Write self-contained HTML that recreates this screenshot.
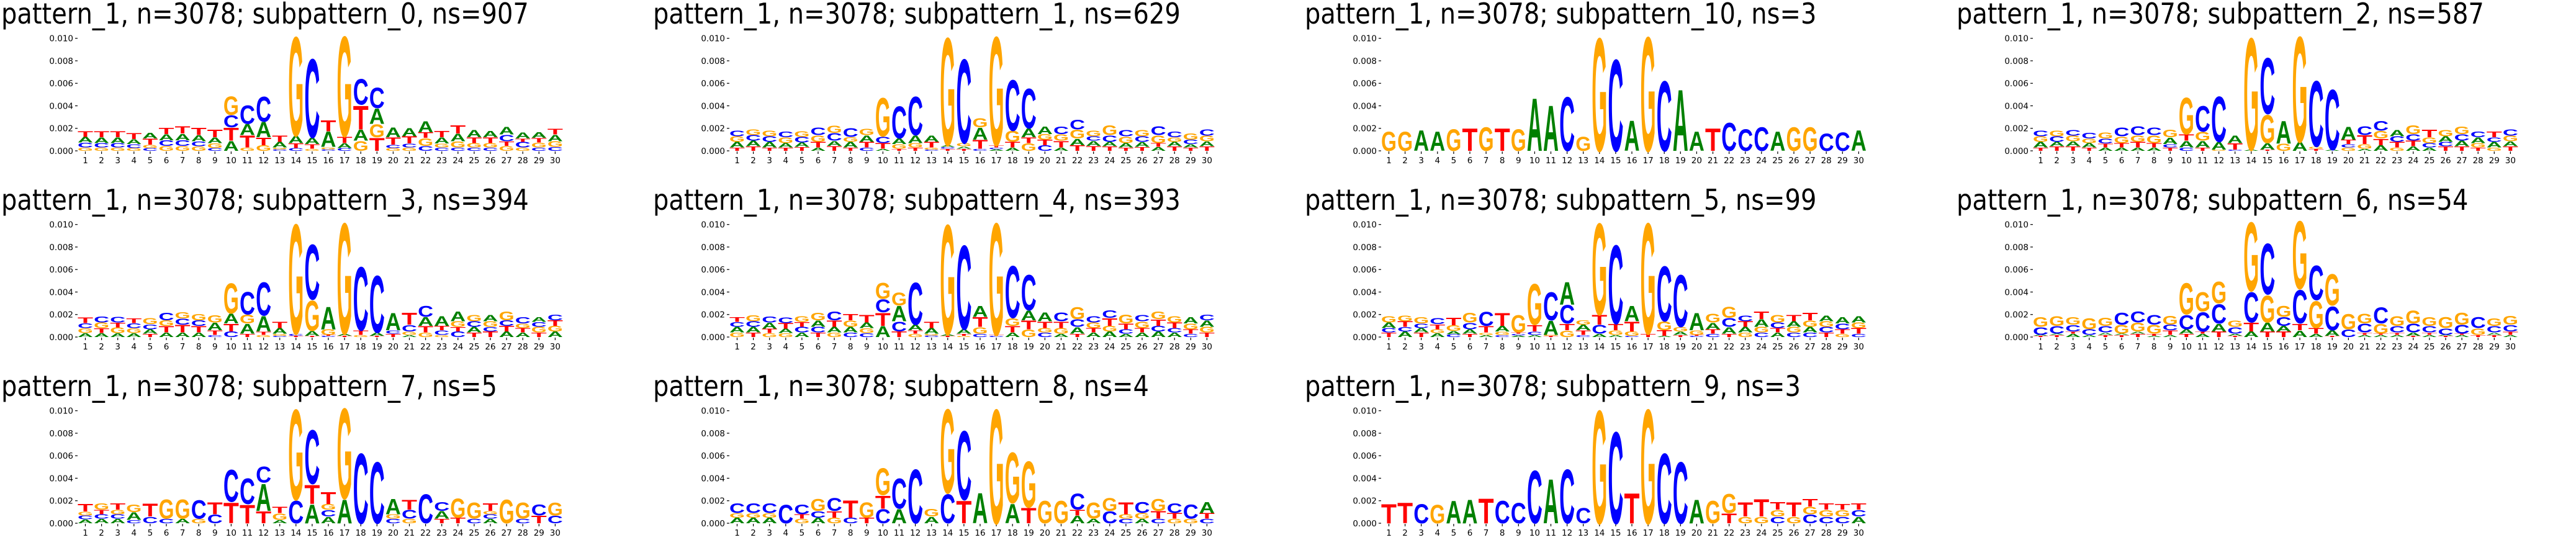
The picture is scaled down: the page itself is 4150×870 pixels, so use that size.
<!DOCTYPE html>
<html><head><meta charset="utf-8"><style>
html,body{margin:0;padding:0;background:#fff;}
svg{display:block;}
</style></head><body>
<svg id="fig" xmlns="http://www.w3.org/2000/svg" width="4150" height="870" viewBox="0 0 4150 870"></svg>
<script>
// Panel titles and layout order
const titles = ["pattern_1, n=3078; subpattern_0, ns=907","pattern_1, n=3078; subpattern_1, ns=629","pattern_1, n=3078; subpattern_10, ns=3","pattern_1, n=3078; subpattern_2, ns=587","pattern_1, n=3078; subpattern_3, ns=394","pattern_1, n=3078; subpattern_4, ns=393","pattern_1, n=3078; subpattern_5, ns=99","pattern_1, n=3078; subpattern_6, ns=54","pattern_1, n=3078; subpattern_7, ns=5","pattern_1, n=3078; subpattern_8, ns=4","pattern_1, n=3078; subpattern_9, ns=3"];
const yTicks = [0, 0.002, 0.004, 0.006, 0.008, 0.010];
const yTickLabels = ["0.000","0.002","0.004","0.006","0.008","0.010"];
const positions = [1,2,3,4,5,6,7,8,9,10,11,12,13,14,15,16,17,18,19,20,21,22,23,24,25,26,27,28,29,30];
// stacks bottom->top, heights in units of 0.001
const logoSub0 = ["G.3C.45A.5T.5","G.3C.4A.5T.55","G.3C.4A.5T.55","G.25C.35A.45T.55","C.25G.3T.55A.5","G.45C.5A.55T.6","G.45C.5A.6T.65","G.4C.45A.55T.65","C.25G.45A.5T.7","A.9T1.2C1.1G1.7","G.3T1.1A1C1.7","G.5T.7A1.4C2.3","C.15G.15A.5T.6","C.25T.45A.65G9.2","G.2T.4A.6C7.3","C.15G.2A1.4T1","C.25A.45T.6G9.3","G.9A1T2.2C2.4","T1.2G1.2A1.4C1.9","G.25C.3T.65A.9","G.3C.35T.65A.75","C.45G.7T.5A1","C.3G.35A.55T.6","C.3G.55A.7T.75","C.3G.4T.5A.65","C.3G.4T.5A.6","G.45T.4C.6A.7","G.3C.5T.3A.55","C.3G.45T.4A.5","C.35G.5A.6T.5"];
const logoSub1 = ["T.3A.5G.5C.5","T.4A.5C.5G.5","T.3A.5C.5G.5","T.3A.4G.5C.5","T.35A.4C.5G.5","A.3T.5G.6C.7","T.45A.45C.7G.65","T.3A.5G.45C.8","C.3T.5A.6G.6","A.2T.5C.6G3.6","T.2G.4A.5C3","T.3G.4A.7C3.6","C.1G.2T.5A.6","T.2C.15A.15G10","T.2A.2G.3C7.8","C.2T.8A1.1G.85","A.15C.15T.2G10.1","A.3T.5G1C4.7","G.7T.5A.8C3.7","C.5T.5G.5A.7","A.3T.6G.6C.7","T.5A.6G.8C.9","T.45A.45C.4G.5","T.4A.4C.6G.9","T.3A.4G.6C.6","T.35A.45C.5G.6","A.35T.35G.7C.8","T.4A.4G.4C.5","T.3A.3C.4G.6","T.4A.45G.5C.6"];
const logoSub10 = ["G1.8","G1.8","A1.9","A1.8","G2","T2.1","G2.2","T2.1","G2","A4.9","A4.2","C5","G1.3","G10.5","C8.5","A2.8","G10.6","C6.5","A5.7","A1.8","T2.1","C2.6","C2","C2.2","A1.8","G2.2","G2.2","C1.6","C1.7","A1.9"];
const logoSub2 = ["T.3A.5G.5C.5","T.4A.4C.5G.5","T.4A.45G.5C.5","T.3A.4G.4C.5","A.3T.35C.45G.55","A.3T.4G.6C.8","A.3T.5G.6C.8","A.3T.4G.7C.7","T.3C.3A.6G.7","C.3A.6T.6G3.4","T.3A.6G.8C2.4","G.1A.7C4.2","C.1T.6A.7","A.1G10.4","T.1A.6G2.6C5.2","G.65A2.1","A.8G9.8","T.2G.2C6.1","A.1C5.6","G.3C.3T.4A1.2","A.2G.4T.8C.8","A.5T.6G.7C.9","G.3T.5C.5A.6","A.4T.5C.6G.8","A.3C.4G.5T.7","T.4C.4A.5G.6","T.4A.5C.6G.7","T.3G.4A.5C.5","G.3A.5C.4T.5","T.4A.45G.5C.6"];
const logoSub3 = ["A.35G.45C.45T.5","A.35T.45G.5C.55","A.35G.5T.45C.5","A.35G.45C.45T.45","T.3A.4C.45G.55","A.4T.6G.5C.7","A.4T.7C.55G.6","A.4T.6C.5G.6","C.2T.4A.7G.65","C.5T.7A.9G2.8","T.3A.9G.8C2.1","G.2T.3A1.4C3.1","C.1G.2A.5T.6","T.1C.2G10.2","T.1A.45G2.8C5.1","C.1T.1G.5A2.1","T.1A.2G10.3","G.2T.4C5.9","T.1A.3C5.3","T.3C.3A1.6","A.2G.3C.6T1.1","G.4T.6A.8C1","G.2C.4T.4A.9","C.5T.4G.5A.9","T.4A.5C.5G.6","T.5C.4G.5A.6","A.5T.5C.5G.8","A.4T.4G.4C.6","T.4G.5C.45A.45","A.5G.5T.5C.5"];
const logoSub4 = ["G.4A.5C.45T.45","T.4A.5C.5G.55","G.35T.4A.55C.55","G.35A.4T.5C.5","A.4C.5T.45G.5","T.4C.5A.6G.7","G.4A.5T.6C.8","C.4A.5G.6T.6","C.35G.45A.5T.7","A1T1.2C1.2G1.5","T.5C.9A1.4G1.2","G.3T.3A.5C3.9","C.15G.15A.5T.6","T.1A.15G10.2","G.1T.2A.4C7.8","C.3G.6T.9A1","C.1T.1G10.4","A.4T.6G.7C4.8","G.7T.8A.9C3.3","C.4G.4T.6A.8","A.3G.5T.6C.8","T.3A.6C.7G1.1","A.4T.4G.5C.6","A.5G.5T.7C.7","A.3C.4T.5G.8","A.4T.4G.6C.6","A.5C.5T.6G.7","A.4C.4T.5G.6","C.3T.4G.5A.6","T.4G.5A.6C.5"];
const logoSub5 = ["T.4C.4A.5G.6","A.5C.4T.5G.5","T.4A.4C.4G.6","A.35G.35T.45C.55","C.25A.3G.5T.7","T.3A.4C.6G.9","A.2G.2T.6C1.3","C.2G.3A.5T1.2","A.15C.15T.1G1.6","A.2C.3T.6G3.8","T.1G.1A1.3C2.6","G.6T.6C1.7A2.1","C.2T.4A.5G.4","A.3C.8T.9G8.5","A.2G.4T.6C7.3","C.1G.4T.9A1.4","T.3G10.3","A.1T.5G.8C5.1","T.2A.3G.4C4.8","C.1T.1G.4A1.6","C.3T.4A.6G.8","T.3A.6C.8G1","G.4A.5T.5C.5","C.4G.5A.7T.7","A.4T.4C.5G.7","C.4G.5A.5T.6","C.4A.5G.6T.7","T.4C.5G.5A.5","G.3T.4C.5A.6","C.3T.5G.5A.6"];
const logoSub6 = ["T.1A.1C.7G.9","T.2A.1C.7G.9","A.3T.2C.6G.7","A.2C.5G1","T.2A.2C.6G.75","T.2A.1G.8C1.1","T.3A.2G.8C1","A.1T.2G.8C.9","A.2T.4C.5G.8","T.3A.4C1.3G2.9","A.3T.2C1.8G1.8","T.5A.7C1.8G2","T.1A.2C.6G.6","A.5T.8C2.8G6.4","T.5A.8G2.5C4.7","T.5A.5C.8G1","A.6T.6C3.1G6.3","A.3T.5G2.5C3.2","T.1A.5C2.2G2.9","C.7G1.4","A.2T.2C.8G.9","A.2T.1G.9C1.5","A.2T.2C.6G.9","T.1A.3C.8G1.2","A.2T.2C.6G.8","T.1A.1C.6G1","A.2T.1C.8G1.1","T.2G.6C1","T.2A.2C.6G.7","A.2T.3C.6G.8"];
const logoSub7 = ["A.35C.35G.35T.7","A.4C.4T.4G.6","A.4C.4G.4T.6","C.3A.7G.7","C.6T1.2","C.4G1.8","A.4G1.8","G.4C1.7","C.8T1.1","T1.9C3","T1.7C2.4","T1.1A2.5C1.5","A.3G.6T.6","C2.1G8.4","A1.75T1.75C5","A.6C.6G.5T1.1","A2.2G8.4","C6.5","C5.7","C.4G.4A1.4","G.4C.8T.9","C2.7","T.4A.7C.8","T.5G1.8","C.4G1.5","A.4C.4G.3T.7","G2.2","C.4G1.5","T.7C1","C.7G1.2"];
const logoSub8 = ["A.5G.4C.9","A.5G.4C.9","A.5G.4C.9","C1.7","G.4T.4C.9","A.5C.6G1.1","G.5T.6C1.2","C.5T1.6","T.5G1.4","C1.3T1.2G2.5","A1.3C2.8","C5","A.6G.7","C2.7G7.8","T2.1C6.4","A2.8","G10.6","A1.8G4.7","T1.4G4.3","G2.1","G2.1","A.7T.5C1.5","A.4G1.5","C1.1G1.2","C.4G.4T1.1","A.4G.5C1","C.4T.7G1.1","G.4T.5C.9","G.4C1.3","C.4T.5A1"];
const logoSub9 = ["T1.8","T1.9","C1.8","G1.7","A2.1","A2.2","T2.3","C2.1","C1.9","C4.9","A4.1","C5","C1.4","G10.5","C8.5","T2.8","G10.6","C6.5","C5.7","A2.2","G2.1","T.9G1.8","G.6T1.3","G.6T1.6","C.6G.6T.7","G.6T1.3","C.8G.7T.7","C.6G.6T.6","C.6G.6T.5","A.6C.6T.6"];

const panels = [
  {t:0, d:logoSub0}, {t:1, d:logoSub1}, {t:2, d:logoSub10}, {t:3, d:logoSub2},
  {t:4, d:logoSub3}, {t:5, d:logoSub4}, {t:6, d:logoSub5}, {t:7, d:logoSub6},
  {t:8, d:logoSub7}, {t:9, d:logoSub8}, {t:10, d:logoSub9}
];
const colors = {A:"#008000", C:"#0000ff", G:"#ffa500", T:"#ff0000"};
const NS = "http://www.w3.org/2000/svg";
const svg = document.getElementById('fig');

function mk(tag, attrs, parent){
  const e = document.createElementNS(NS, tag);
  for (const k in attrs) e.setAttribute(k, attrs[k]);
  parent.appendChild(e);
  return e;
}
function parseStack(s){
  const out=[]; const re=/([ACGT])([\d.]+)/g; let m;
  while((m=re.exec(s))) out.push([m[1], parseFloat(m[2])]);
  return out;
}

const TITLE_FS = 46;
const probe = mk('text', {x:0,y:-100,'font-family':'DejaVu Sans, Liberation Sans, sans-serif','font-size':TITLE_FS}, svg);
probe.textContent = titles[0];
const titleScale = 850 / probe.getComputedTextLength();
svg.removeChild(probe);

const letterBox = {};
['A','C','G','T'].forEach(L=>{
  const p = mk('text', {x:0,y:-200,'font-family':'Liberation Sans, DejaVu Sans, sans-serif','font-weight':'bold','font-size':100}, svg);
  p.textContent = L;
  const bb = p.getBBox();
  letterBox[L] = {x:bb.x, w:bb.width};
  svg.removeChild(p);
});
const CAP = 72.9;

panels.forEach((p, i)=>{
  const col = i % 4, row = Math.floor(i / 4);
  const X0 = col*1050, Y0 = row*300;
  const g = mk('g', {}, svg);
  
  
  const base = Y0 + 243, perUnit = 18.13;
  const yOf = v => base - v*1000*perUnit;
  const xOf = pos => X0 + 137.5 + (pos-1)*26.1;

  const t = mk('text', {x:0, y:0, transform:`translate(${X0+2},${Y0+38}) scale(${titleScale},1)`, 'font-family':'DejaVu Sans, Liberation Sans, sans-serif','font-size':TITLE_FS, fill:'#000'}, g);
  
  
  t.textContent = titles[p.t];

  yTicks.forEach((v,k)=>{
    const y = yOf(v);
    const tk = mk('line', {x1:X0+121, x2:X0+125, y1:y, y2:y, stroke:'#000','stroke-width':1.2}, g);
    
    
    const lb = mk('text', {x:X0+118, y:y+4.8, 'text-anchor':'end','font-family':'DejaVu Sans, sans-serif','font-size':13.5, fill:'#000'}, g);
    
    
    lb.textContent = yTickLabels[k];
  });
  positions.forEach(pos=>{
    const x = xOf(pos);
    const tk = mk('line', {x1:x, x2:x, y1:base+1, y2:base+5, stroke:'#000','stroke-width':1.2}, g);
    
    
    const lb = mk('text', {x:x, y:base+20, 'text-anchor':'middle','font-family':'DejaVu Sans, sans-serif','font-size':13.5, fill:'#000'}, g);
    
    
    lb.textContent = String(pos);
  });

  p.d.forEach((s, k)=>{
    const stack = parseStack(s);
    let cum = 0;
    const cx = xOf(positions[k]);
    stack.forEach(([L, h])=>{
      const v0 = cum/1000, v1 = (cum+h)/1000;
      cum += h;
      const yb = yOf(v0), yt = yOf(v1);
      const hpx = yb - yt;
      if (hpx <= 0.2) return;
      const lb = letterBox[L];
      const w = 25;
      const sx = w / lb.w, sy = hpx / CAP;
      const e = mk('text', {x:0, y:0, transform:`translate(${cx - w/2},${yb}) scale(${sx},${sy}) translate(${-lb.x},0)`, 'font-family':'Liberation Sans, DejaVu Sans, sans-serif','font-weight':'bold','font-size':100, fill:colors[L]}, g);
      
      
      e.textContent = L;
    });
  });
});
</script>
</body></html>
